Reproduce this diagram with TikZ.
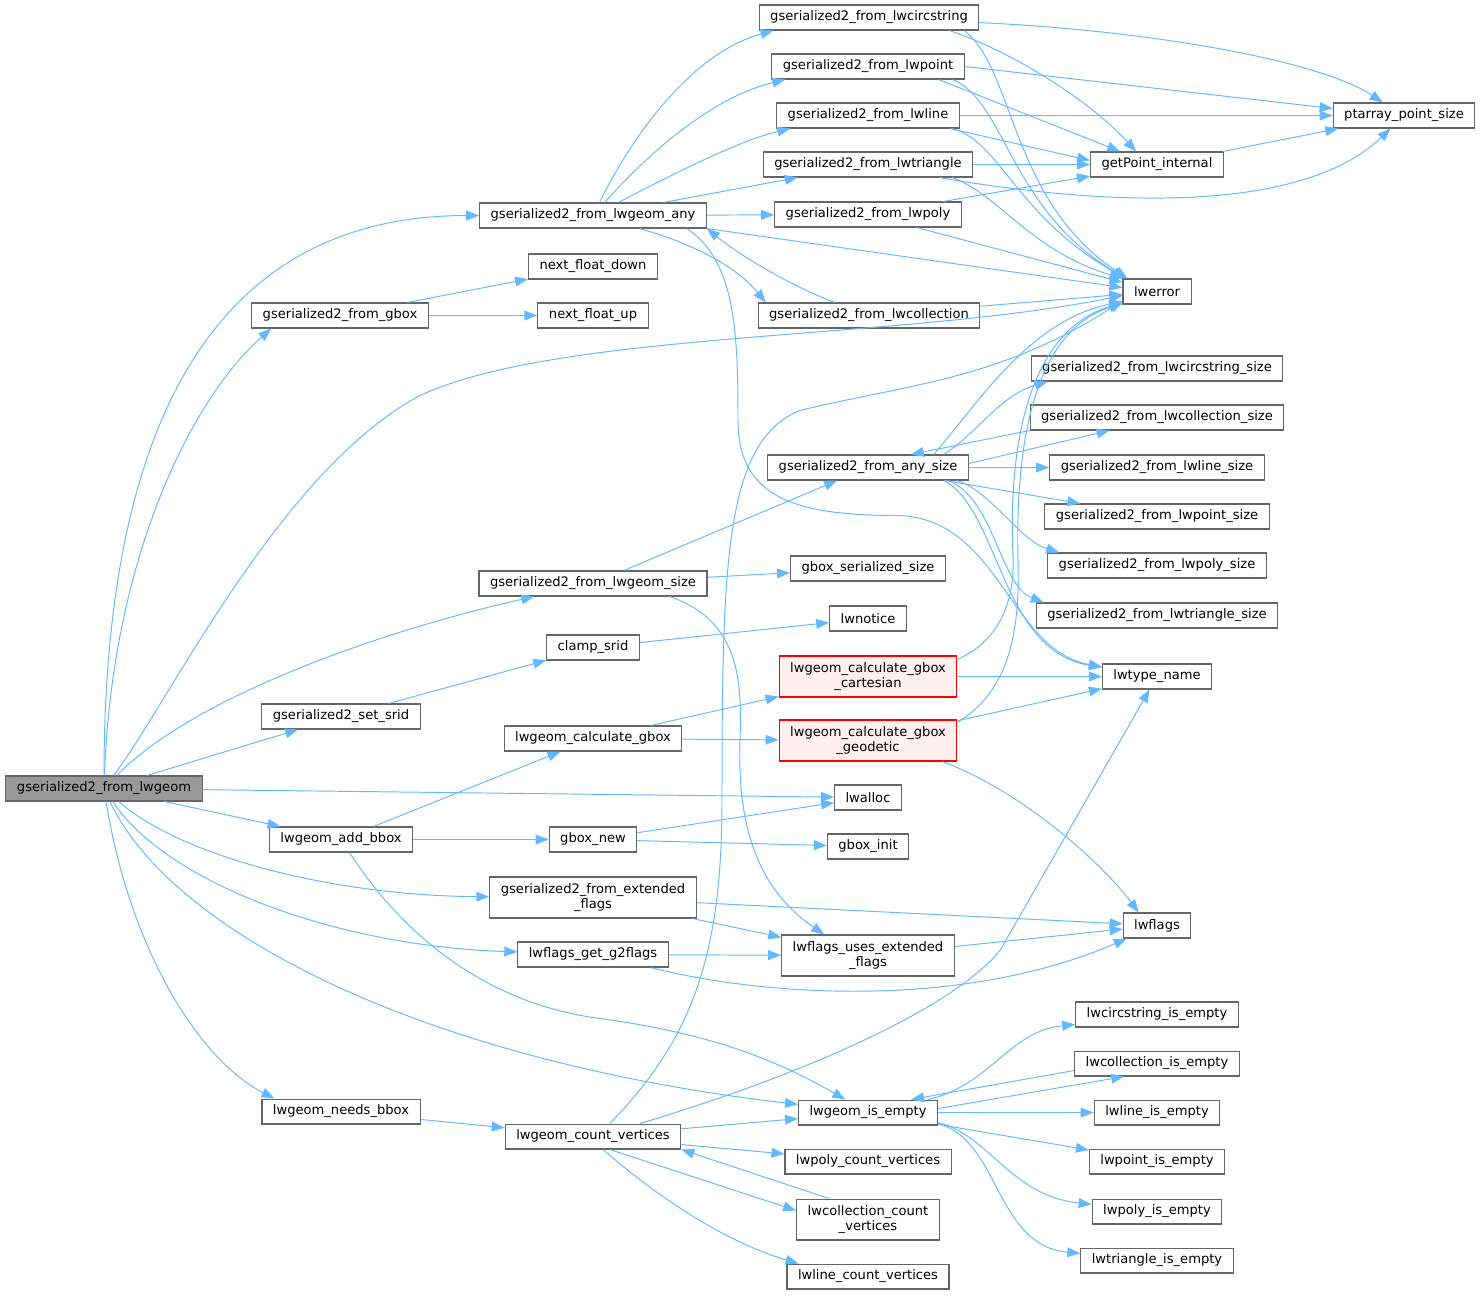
\documentclass[tikz,border=0pt]{standalone}
\usepackage{fontspec}
\setmainfont{DejaVu Sans}
\usetikzlibrary{arrows.meta,calc}
\definecolor{edgecolor}{RGB}{99,184,255}
\definecolor{bordercolor}{RGB}{102,102,102}
\definecolor{rootcolor}{RGB}{153,153,153}
\definecolor{redfill}{RGB}{255,240,240}

\begin{document}
\begin{tikzpicture}[x=0.02cm, y=-0.02cm, >={Triangle[length=7.4pt,width=5.6pt]},
    fn/.style={draw=bordercolor, line width=0.6pt, fill=white, minimum height=0.5cm,
      inner xsep=0.22cm, inner ysep=0pt, font=\fontsize{7.45}{8.5}\selectfont},
    fn2/.style={fn, align=center, minimum height=0.82cm},
    rootfn/.style={fn, fill=rootcolor},
    redfn/.style={fn2, draw=red, fill=redfill},
    edge/.style={->, draw=edgecolor, line width=0.55pt}]
    \useasboundingbox (0,-0.5) rectangle (1483,1295.5);

    % Root of the call graph
    \node[rootfn] (root) at (104,788) {gserialized2\_from\_lwgeom};

    % Serialization of each geometry type
    \node[fn] (any) at (593,215) {gserialized2\_from\_lwgeom\_any};
    \node[fn] (circ) at (869,17) {gserialized2\_from\_lwcircstring};
    \node[fn] (point) at (868,66) {gserialized2\_from\_lwpoint};
    \node[fn] (line) at (868,115) {gserialized2\_from\_lwline};
    \node[fn] (tri) at (868,164) {gserialized2\_from\_lwtriangle};
    \node[fn] (poly) at (868,214) {gserialized2\_from\_lwpoly};
    \node[fn] (coll) at (869,315) {gserialized2\_from\_lwcollection};
    \node[fn] (ptsize) at (1404,115) {ptarray\_point\_size};
    \node[fn] (getpt) at (1157,164) {getPoint\_internal};
    \node[fn] (lwerror) at (1157,291) {lwerror};

    % Bounding box
    \node[fn] (gbox) at (340,315) {gserialized2\_from\_gbox};
    \node[fn] (fdown) at (593,266) {next\_float\_down};
    \node[fn] (fup) at (593,315) {next\_float\_up};

    % Sizes
    \node[fn] (geomsz) at (593,583) {gserialized2\_from\_lwgeom\_size};
    \node[fn] (anysz) at (868,467) {gserialized2\_from\_any\_size};
    \node[fn] (gboxsz) at (868,568) {gbox\_serialized\_size};
    \node[fn] (circsz) at (1157,368) {gserialized2\_from\_lwcircstring\_size};
    \node[fn] (collsz) at (1157,417) {gserialized2\_from\_lwcollection\_size};
    \node[fn] (linesz) at (1157,467) {gserialized2\_from\_lwline\_size};
    \node[fn] (pointsz) at (1157,516) {gserialized2\_from\_lwpoint\_size};
    \node[fn] (polysz) at (1157,565) {gserialized2\_from\_lwpoly\_size};
    \node[fn] (trisz) at (1157,615) {gserialized2\_from\_lwtriangle\_size};

    % SRID and gbox computation
    \node[fn] (lwnotice) at (868,618) {lwnotice};
    \node[fn] (clamp) at (593,647) {clamp\_srid};
    \node[fn] (setsrid) at (341,716) {gserialized2\_set\_srid};
    \node[redfn] (cart) at (868,676) {lwgeom\_calculate\_gbox\\\_cartesian};
    \node[redfn] (geod) at (868,740) {lwgeom\_calculate\_gbox\\\_geodetic};
    \node[fn] (lwtype) at (1157,676) {lwtype\_name};
    \node[fn] (calcgbox) at (593,738) {lwgeom\_calculate\_gbox};
    \node[fn] (lwalloc) at (868,797) {lwalloc};
    \node[fn] (addbbox) at (341,839) {lwgeom\_add\_bbox};
    \node[fn] (gboxnew) at (593,839) {gbox\_new};
    \node[fn] (gboxinit) at (868,846) {gbox\_init};

    % Flags
    \node[fn2] (extflags) at (593,897) {gserialized2\_from\_extended\\\_flags};
    \node[fn] (lwflags) at (1157,925) {lwflags};
    \node[fn2] (usesext) at (868,955) {lwflags\_uses\_extended\\\_flags};
    \node[fn] (g2flags) at (593,954) {lwflags\_get\_g2flags};

    % Emptiness and vertex counts
    \node[fn] (needsbbox) at (341,1111) {lwgeom\_needs\_bbox};
    \node[fn] (countv) at (593,1136) {lwgeom\_count\_vertices};
    \node[fn] (geomempty) at (868,1112) {lwgeom\_is\_empty};
    \node[fn] (polycount) at (868,1161) {lwpoly\_count\_vertices};
    \node[fn2] (collcount) at (868,1219) {lwcollection\_count\\\_vertices};
    \node[fn] (linecount) at (868,1276) {lwline\_count\_vertices};
    \node[fn] (circempty) at (1157,1014) {lwcircstring\_is\_empty};
    \node[fn] (collempty) at (1157,1063) {lwcollection\_is\_empty};
    \node[fn] (lineempty) at (1157,1112) {lwline\_is\_empty};
    \node[fn] (pointempty) at (1157,1161) {lwpoint\_is\_empty};
    \node[fn] (polyempty) at (1157,1211) {lwpoly\_is\_empty};
    \node[fn] (triempty) at (1157,1260) {lwtriangle\_is\_empty};

    % Straight calls
    \foreach \a/\b in {root/setsrid, root/lwalloc, root/addbbox, any/tri, any/poly,
        line/ptsize, tri/getpt, poly/getpt, poly/lwerror, coll/lwerror, getpt/ptsize,
        gbox/fdown, gbox/fup, geomsz/anysz, geomsz/gboxsz, anysz/linesz, anysz/pointsz,
        cart/lwtype, geod/lwtype, calcgbox/cart, calcgbox/geod, setsrid/clamp,
        clamp/lwnotice, addbbox/calcgbox, addbbox/gboxnew, gboxnew/lwalloc,
        gboxnew/gboxinit, extflags/lwflags, extflags/usesext, usesext/lwflags,
        g2flags/usesext, needsbbox/countv, countv/geomempty, countv/polycount,
        geomempty/lineempty, geomempty/pointempty}
        \draw[edge] (\a) -- (\b);

    \draw[edge] (point.east) -- ($(ptsize.west)+(0,-7)$);
    \draw[edge] ($(point.south east)+(-26,0)$) -- ($(getpt.north west)+(30,0)$);
    \draw[edge] ($(line.south east)+(-10,0)$) -- ($(getpt.west)+(0,-4)$);
    \draw[edge] (any.south east) -- ($(lwerror.west)+(0,-4)$);
    \draw[edge] ($(anysz.east)+(0,-4)$) -- ($(collsz.south west)+(80,0)$);
    \draw[edge] (collsz.south west) -- ($(anysz.north east)+(-58,0)$);
    \draw[edge] ($(countv.south)+(17,0)$) -- ($(collcount.west)+(0,-9)$);
    \draw[edge] ($(collcount.north west)+(33,0)$) -- (countv.south east);
    \draw[edge] ($(collempty.west)+(0,7)$) -- ($(geomempty.north east)+(-27,0)$);
    \draw[edge] ($(geomempty.east)+(0,-4)$) -- ($(collempty.south west)+(50,0)$);

    % Calls from the root
    \draw[edge] (root) .. controls (104,430) and (210,215) .. (any);
    \draw[edge] (root) .. controls (112,560) and (190,400) .. ($(gbox.south west)+(20,0)$);
    \draw[edge] (root) .. controls (170,700) and (280,470) .. (420,395)
        .. controls (560,330) and (900,340) .. ($(lwerror.west)+(0,4)$);
    \draw[edge] (root) .. controls (200,690) and (404,625) .. (geomsz);
    \draw[edge] (root) .. controls (180,855) and (330,895) .. (extflags);
    \draw[edge] (root) .. controls (165,880) and (330,945) .. (g2flags);
    \draw[edge] (root) .. controls (170,930) and (420,1060) .. (geomempty);
    \draw[edge] (root) .. controls (130,950) and (200,1060) .. ($(needsbbox.north west)+(13,0)$);

    % Calls from gserialized2_from_lwgeom_any
    \draw[edge] (any) .. controls (640,120) and (700,50) .. ($(circ.south west)+(15,0)$);
    \draw[edge] (any) .. controls (660,140) and (720,95) .. ($(point.south west)+(14,0)$);
    \draw[edge] (any) .. controls (680,170) and (740,140) .. ($(line.south west)+(14,0)$);
    \draw[edge] (any) .. controls (700,245) and (740,270) .. ($(coll.north west)+(8,0)$);
    \draw[edge] (coll) .. controls (790,285) and (740,255) .. (any.south east);
    \draw[edge] ($(any.south east)+(-20,0)$) .. controls (735,260) and (738,330) .. (738,420)
        .. controls (738,500) and (800,515) .. (900,515)
        .. controls (1000,520) and (1010,650) .. (lwtype);

    % Point arrays and errors
    \draw[edge] (circ) .. controls (1150,30) and (1320,60) .. ($(ptsize.north west)+(50,0)$);
    \draw[edge] ($(circ.south east)+(-30,0)$) .. controls (1010,50) and (1090,100) .. ($(getpt.north west)+(46,0)$);
    \draw[edge] ($(circ.south east)+(-15,0)$) .. controls (1015,70) and (1010,200) .. ($(lwerror.north west)+(5,0)$);
    \draw[edge] ($(point.south east)+(-12,0)$) .. controls (1005,100) and (1010,210) .. ($(lwerror.north west)+(4,0)$);
    \draw[edge] ($(line.south east)+(-8,0)$) .. controls (1000,140) and (1015,215) .. ($(lwerror.north west)+(3,0)$);
    \draw[edge] ($(tri.south east)+(-21,0)$) .. controls (1000,195) and (1030,250) .. (lwerror.north west);
    \draw[edge] ($(tri.south east)+(-34,0)$) .. controls (1100,205) and (1300,215) .. (ptsize);

    % Size computation
    \draw[edge] ($(geomsz.south east)+(-38,0)$) .. controls (740,620) and (742,680) .. (740,740)
        .. controls (737,830) and (760,890) .. ($(usesext.north west)+(43,0)$);
    \draw[edge] ($(anysz.north east)+(-25,0)$) .. controls (980,430) and (1000,395) .. ($(circsz.south west)+(17,0)$);
    \draw[edge] ($(anysz.north east)+(-35,0)$) .. controls (980,400) and (1030,320) .. ($(lwerror.south west)+(0,-3)$);
    \draw[edge] ($(anysz.south east)+(-12,0)$) .. controls (990,490) and (1020,540) .. ($(polysz.north west)+(12,0)$);
    \draw[edge] ($(anysz.south east)+(-20,0)$) .. controls (995,500) and (1000,585) .. ($(trisz.north west)+(8,0)$);
    \draw[edge] ($(anysz.south east)+(-25,0)$) .. controls (1000,510) and (1000,650) .. (lwtype);

    % Box computation errors and flags
    \draw[edge] ($(cart.north east)+(0,4)$) .. controls (1000,640) and (1015,600) .. (1013,555)
        .. controls (1008,440) and (1030,330) .. ($(lwerror.south west)+(0,-2)$);
    \draw[edge] ($(geod.north east)+(0,3)$) .. controls (1010,690) and (1020,630) .. (1018,560)
        .. controls (1015,440) and (1035,330) .. ($(lwerror.south west)+(0,-1)$);
    \draw[edge] ($(geod.south east)+(-15,0)$) .. controls (1020,790) and (1100,860) .. ($(lwflags.north west)+(16,0)$);
    \draw[edge] ($(g2flags.south east)+(-18,0)$) .. controls (760,995) and (960,1010) .. (lwflags);

    % Emptiness and vertex counts
    \draw[edge] (addbbox) .. controls (400,930) and (480,1000) .. (593,1017)
        .. controls (690,1030) and (760,1050) .. (geomempty);
    \draw[edge] ($(countv.north)+(17,0)$) .. controls (690,1040) and (722,960) .. (722,800)
        .. controls (722,560) and (725,440) .. (800,410)
        .. controls (900,385) and (1000,380) .. ($(lwerror.south west)+(0,-4)$);
    \draw[edge] ($(countv.north)+(47,0)$) .. controls (800,1075) and (950,1010) .. (1000,950) -- (lwtype);
    \draw[edge] ($(countv.south)+(10,0)$) .. controls (650,1190) and (720,1240) .. ($(linecount.north west)+(12,0)$);
    \draw[edge] ($(geomempty.north east)+(-10,0)$) .. controls (990,1085) and (1010,1030) .. ($(circempty.south west)+(0,-3)$);
    \draw[edge] ($(geomempty.south east)+(0,-3)$) .. controls (990,1135) and (1010,1195) .. (polyempty);
    \draw[edge] ($(geomempty.south east)+(0,-2)$) .. controls (1000,1140) and (995,1245) .. (triempty);
\end{tikzpicture}
\end{document}
